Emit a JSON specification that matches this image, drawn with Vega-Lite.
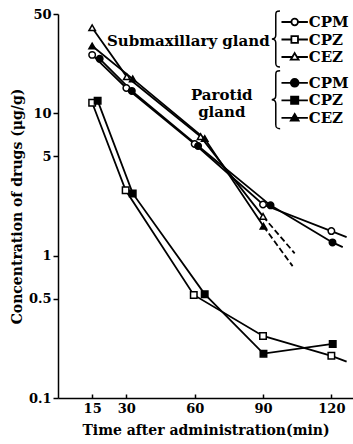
{
  "$schema": "https://vega.github.io/schema/vega-lite/v6.json",
  "width": 295,
  "height": 384,
  "autosize": "none",
  "padding": {"left": 58, "top": 14, "right": 0, "bottom": 46},
  "background": "white",
  "config": {
    "font": "DejaVu Serif",
    "view": {"stroke": null},
    "axis": {
      "domainColor": "black", "domainWidth": 1.5, "tickColor": "black", "tickWidth": 1.5,
      "labelColor": "black", "titleColor": "black", "labelFont": "DejaVu Serif", "labelFontWeight": "bold",
      "titleFont": "DejaVu Serif", "titleFontWeight": "bold", "grid": false, "labelFlush": false, "labelOverlap": false
    }
  },
  "datasets": {
    "conc": [
      {"series": "S-CPM", "kind": "obs", "time": 15, "conc": 25.8},
      {"series": "S-CPM", "kind": "obs", "time": 30, "conc": 15.1},
      {"series": "S-CPM", "kind": "obs", "time": 60, "conc": 6.1},
      {"series": "S-CPM", "kind": "obs", "time": 90, "conc": 2.29},
      {"series": "S-CPM", "kind": "obs", "time": 120, "conc": 1.49},
      {"series": "S-CPM", "kind": "ext", "time": 126.7, "conc": 1.35},
      {"series": "P-CPM", "kind": "obs", "time": 18.3, "conc": 24.2},
      {"series": "P-CPM", "kind": "obs", "time": 32.4, "conc": 14.4},
      {"series": "P-CPM", "kind": "obs", "time": 61.5, "conc": 5.9},
      {"series": "P-CPM", "kind": "obs", "time": 93.3, "conc": 2.26},
      {"series": "P-CPM", "kind": "obs", "time": 120.5, "conc": 1.24},
      {"series": "P-CPM", "kind": "ext", "time": 125, "conc": 1.15},
      {"series": "S-CPZ", "kind": "obs", "time": 15, "conc": 11.9},
      {"series": "S-CPZ", "kind": "obs", "time": 29.7, "conc": 2.88},
      {"series": "S-CPZ", "kind": "obs", "time": 59.6, "conc": 0.53},
      {"series": "S-CPZ", "kind": "obs", "time": 90, "conc": 0.273},
      {"series": "S-CPZ", "kind": "obs", "time": 120, "conc": 0.198},
      {"series": "S-CPZ", "kind": "ext", "time": 126.7, "conc": 0.18},
      {"series": "P-CPZ", "kind": "obs", "time": 17.4, "conc": 12.3},
      {"series": "P-CPZ", "kind": "obs", "time": 32.8, "conc": 2.74},
      {"series": "P-CPZ", "kind": "obs", "time": 64.4, "conc": 0.537},
      {"series": "P-CPZ", "kind": "obs", "time": 90.2, "conc": 0.205},
      {"series": "P-CPZ", "kind": "obs", "time": 120.6, "conc": 0.24},
      {"series": "S-CEZ", "kind": "obs", "time": 15, "conc": 40},
      {"series": "S-CEZ", "kind": "obs", "time": 30.2, "conc": 18.1},
      {"series": "S-CEZ", "kind": "obs", "time": 62.6, "conc": 6.87},
      {"series": "S-CEZ", "kind": "obs", "time": 90, "conc": 1.89},
      {"series": "S-CEZ", "kind": "dash", "time": 103.9, "conc": 1.04},
      {"series": "P-CEZ", "kind": "obs", "time": 15, "conc": 29.8},
      {"series": "P-CEZ", "kind": "obs", "time": 32.8, "conc": 17.5},
      {"series": "P-CEZ", "kind": "obs", "time": 64.4, "conc": 6.66},
      {"series": "P-CEZ", "kind": "obs", "time": 90.2, "conc": 1.61},
      {"series": "P-CEZ", "kind": "dash", "time": 103, "conc": 0.845}
    ]
  },
  "layer": [
    {
      "data": {"name": "conc"},
      "transform": [{"filter": "datum.kind != 'dash'"}],
      "mark": {"type": "line", "color": "black", "strokeWidth": 1.8},
      "encoding": {
        "x": {
          "field": "time", "type": "quantitative",
          "scale": {"domain": [0, 129.5], "nice": false, "zero": false},
          "axis": {"values": [15, 30, 60, 90, 120], "title": "Time after administration(min)", "tickSize": -4, "labelPadding": 8, "labelFontSize": 13, "titleFontSize": 14, "titlePadding": 8}
        },
        "y": {
          "field": "conc", "type": "quantitative",
          "scale": {"type": "log", "domain": [0.1, 50], "nice": false},
          "axis": {"values": [0.1, 0.5, 1, 5, 10, 50], "format": "~g", "title": "Concentration of drugs (μg/g)", "tickSize": 5, "labelPadding": 2, "labelFontSize": 13, "titleFontSize": 14, "titlePadding": 4}
        },
        "detail": {"field": "series"},
        "order": {"field": "time"}
      }
    },
    {
      "data": {"name": "conc"},
      "transform": [{"filter": "datum.kind == 'dash' || ((datum.series == 'S-CEZ' || datum.series == 'P-CEZ') && datum.time >= 89)"}],
      "mark": {"type": "line", "color": "black", "strokeWidth": 1.8, "strokeDash": [6, 3]},
      "encoding": {
        "x": {"field": "time", "type": "quantitative"},
        "y": {"field": "conc", "type": "quantitative"},
        "detail": {"field": "series"},
        "order": {"field": "time"}
      }
    },
    {
      "data": {"name": "conc"},
      "transform": [{"filter": "datum.kind == 'obs'"}],
      "mark": {"type": "point", "filled": true, "stroke": "black", "strokeWidth": 1.5, "size": 42, "opacity": 1},
      "encoding": {
        "x": {"field": "time", "type": "quantitative"},
        "y": {"field": "conc", "type": "quantitative"},
        "shape": {
          "field": "series", "type": "nominal",
          "scale": {"domain": ["S-CPM", "S-CPZ", "S-CEZ", "P-CPM", "P-CPZ", "P-CEZ"], "range": ["circle", "square", "triangle-up", "circle", "square", "triangle-up"]},
          "legend": null
        },
        "fill": {
          "field": "series", "type": "nominal",
          "scale": {"domain": ["S-CPM", "S-CPZ", "S-CEZ", "P-CPM", "P-CPZ", "P-CEZ"], "range": ["white", "white", "white", "black", "black", "black"]},
          "legend": null
        }
      }
    },
    {
      "data": {"values": [{}]},
      "mark": {"type": "point", "shape": "M-2.2,-2.917H-0.55M0.55,-2.917H2.2M-0.55,-2.917A0.55,0.55,0,1,1,0.55,-2.917A0.55,0.55,0,1,1,-0.55,-2.917ZM-2.2,0H-0.55M0.55,0H2.2M-0.55,-0.55H0.55V0.55H-0.55ZM-2.2,2.917H-0.38M0.38,2.917H2.2M0,2.267L0.65,3.367L-0.65,3.367Z", "size": 144, "filled": true, "fill": "white", "stroke": "black", "strokeWidth": 1.8, "opacity": 1},
      "encoding": {"x": {"datum": 103.9, "type": "quantitative"}, "y": {"datum": 33.1, "type": "quantitative"}}
    },
    {
      "data": {"values": [{}]},
      "mark": {"type": "point", "shape": "M-2.2,-2.917H-0.65M0.65,-2.917H2.2M-0.65,-2.917A0.65,0.65,0,1,1,0.65,-2.917A0.65,0.65,0,1,1,-0.65,-2.917ZM-2.2,0H-0.6M0.6,0H2.2M-0.6,-0.6H0.6V0.6H-0.6ZM-2.2,2.917H-0.38M0.38,2.917H2.2M0,2.267L0.65,3.367L-0.65,3.367Z", "size": 144, "filled": true, "fill": "black", "stroke": "black", "strokeWidth": 1.8, "opacity": 1},
      "encoding": {"x": {"datum": 103.9, "type": "quantitative"}, "y": {"datum": 12.37, "type": "quantitative"}}
    },
    {
      "data": {"values": [{}]},
      "mark": {"type": "text", "align": "left", "baseline": "middle", "fontSize": 15, "fontWeight": "bold", "font": "DejaVu Serif", "color": "black", "lineHeight": 17.5},
      "encoding": {"x": {"datum": 110.05, "type": "quantitative"}, "y": {"datum": 43.9, "type": "quantitative"}, "text": {"value": ["CPM", "CPZ", "CEZ"]}}
    },
    {
      "data": {"values": [{}]},
      "mark": {"type": "text", "align": "left", "baseline": "middle", "fontSize": 15, "fontWeight": "bold", "font": "DejaVu Serif", "color": "black", "lineHeight": 17.5},
      "encoding": {"x": {"datum": 110.05, "type": "quantitative"}, "y": {"datum": 16.4, "type": "quantitative"}, "text": {"value": ["CPM", "CPZ", "CEZ"]}}
    },
    {
      "data": {"values": [{}]},
      "mark": {"type": "text", "align": "right", "baseline": "middle", "fontSize": 15, "fontWeight": "bold", "font": "DejaVu Serif", "color": "black"},
      "encoding": {"x": {"datum": 92.9, "type": "quantitative"}, "y": {"datum": 32.3, "type": "quantitative"}, "text": {"value": "Submaxillary gland"}}
    },
    {
      "data": {"values": [{}]},
      "mark": {"type": "text", "align": "center", "baseline": "middle", "fontSize": 15, "fontWeight": "bold", "font": "DejaVu Serif", "color": "black"},
      "encoding": {"x": {"datum": 71.9, "type": "quantitative"}, "y": {"datum": 13.5, "type": "quantitative"}, "text": {"value": "Parotid"}}
    },
    {
      "data": {"values": [{}]},
      "mark": {"type": "text", "align": "center", "baseline": "middle", "fontSize": 15, "fontWeight": "bold", "font": "DejaVu Serif", "color": "black"},
      "encoding": {"x": {"datum": 71.9, "type": "quantitative"}, "y": {"datum": 10.3, "type": "quantitative"}, "text": {"value": "gland"}}
    },
    {
      "data": {"values": [{}]},
      "mark": {"type": "point", "shape": "M0.15,-1C0.02,-1,0,-0.96,0,-0.86L0,-0.14C0,-0.05,-0.04,0,-0.14,0C-0.04,0,0,0.05,0,0.14L0,0.86C0,0.96,0.02,1,0.15,1", "size": 3136, "filled": false, "stroke": "black", "strokeWidth": 1.5, "opacity": 1},
      "encoding": {"x": {"datum": 95.6, "type": "quantitative"}, "y": {"datum": 33.4, "type": "quantitative"}}
    },
    {
      "data": {"values": [{}]},
      "mark": {"type": "point", "shape": "M0.15,-1C0.02,-1,0,-0.96,0,-0.86L0,-0.14C0,-0.05,-0.04,0,-0.14,0C-0.04,0,0,0.05,0,0.14L0,0.86C0,0.96,0.02,1,0.15,1", "size": 3364, "filled": false, "stroke": "black", "strokeWidth": 1.5, "opacity": 1},
      "encoding": {"x": {"datum": 95.6, "type": "quantitative"}, "y": {"datum": 12.5, "type": "quantitative"}}
    }
  ]
}
